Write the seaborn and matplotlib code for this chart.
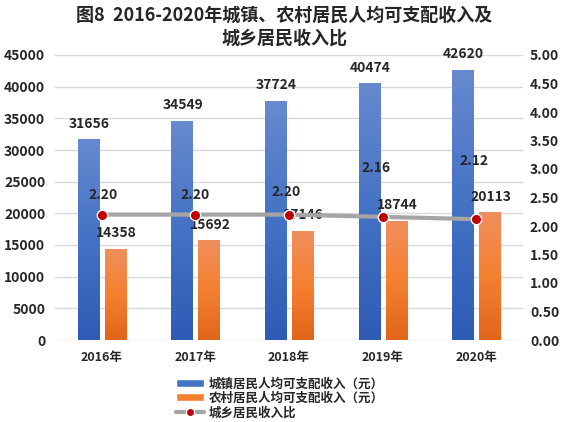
import numpy as np
import pandas as pd
import matplotlib
matplotlib.use('Agg')
import matplotlib.pyplot as plt
import seaborn as sns
from matplotlib.colors import LinearSegmentedColormap
from matplotlib.patches import Patch
from matplotlib.lines import Line2D
from matplotlib.ticker import FormatStrFormatter

# datos
years = ['2016年', '2017年', '2018年', '2019年', '2020年']
urban = [31656, 34549, 37724, 40474, 42620]
rural = [14358, 15692, 17146, 18744, 20113]
ratio = [2.20, 2.20, 2.20, 2.16, 2.12]
series_names = ['城镇居民人均可支配收入（元）', '农村居民人均可支配收入（元）']
line_name = '城乡居民收入比'

# desplazamiento (pixeles) de las etiquetas del ratio
ratio_label_dy = [20, 20, 23, 49, 58]
ratio_label_dx = [1, 0, -3, -7, -2]

sns.set_style('white')
plt.rcParams['font.family'] = ['Noto Sans CJK SC', 'DejaVu Sans']
plt.rcParams['font.weight'] = 'bold'

df = pd.DataFrame({
    'year': years * 2,
    'value': urban + rural,
    'serie': [series_names[0]] * len(years) + [series_names[1]] * len(years),
})

fig = plt.figure(figsize=(5.65, 4.22), dpi=100)
ax = fig.add_axes([55 / 565, 1 - 340 / 422, 468 / 565, 285 / 422])

sns.barplot(data=df, x='year', y='value', hue='serie', ax=ax,
            palette=['#4472c4', '#f58030'], width=0.578, gap=0.22,
            legend=False)

# degradado en las barras
grads = [LinearSegmentedColormap.from_list('b', ['#2f5bb5', '#4472c4', '#6789cf']),
         LinearSegmentedColormap.from_list('o', ['#e0661a', '#f58030', '#f08e5c'])]
g = np.linspace(0, 1, 100).reshape(-1, 1)
bars = [p for p in ax.patches if p.get_height() > 0]
n = len(years)
for i, p in enumerate(bars):
    x0, w, h = p.get_x(), p.get_width(), p.get_height()
    ax.imshow(g, extent=[x0, x0 + w, 0, h], origin='lower', aspect='auto',
              cmap=grads[i // n], zorder=2)
    p.set_alpha(0)

for i, p in enumerate(bars):
    ax.annotate(f'{int(p.get_height())}', (p.get_x() + p.get_width() / 2, p.get_height()),
                xytext=(1, 16), textcoords='offset pixels', ha='center', va='center',
                fontsize=10, fontweight='bold', zorder=6)

ax.set_xlim(-0.5, n - 0.5)
ax.set_ylim(0, 45000)
ax.set_yticks(np.arange(0, 45001, 5000))
ax.grid(axis='y', color='#d9d9d9', linewidth=1)
ax.set_axisbelow(True)
ax.set_xlabel('')
ax.set_ylabel('')
for s in ax.spines.values():
    s.set_visible(False)
ax.tick_params(axis='y', labelsize=10, pad=7, length=0)
ax.tick_params(axis='x', labelsize=9, pad=8, length=0)

ax2 = ax.twinx()
sns.lineplot(x=np.arange(n), y=ratio, ax=ax2, color='#a5a5a5', linewidth=3,
             marker='o', markersize=7.5, markerfacecolor='#c00000',
             markeredgecolor='white', markeredgewidth=1, zorder=5)
ax2.set_ylim(0, 5)
ax2.set_yticks(np.arange(0, 5.01, 0.5))
ax2.yaxis.set_major_formatter(FormatStrFormatter('%.2f'))
ax2.tick_params(axis='y', labelsize=10, pad=5, length=0)
for s in ax2.spines.values():
    s.set_visible(False)
ax2.grid(False)
for i, r in enumerate(ratio):
    ax2.annotate(f'{r:.2f}', (i, r), xytext=(ratio_label_dx[i], ratio_label_dy[i]),
                 textcoords='offset pixels', ha='center', va='center',
                 fontsize=10, fontweight='bold')
ax.set_zorder(1)
ax2.set_zorder(2)
ax2.patch.set_visible(False)

fig.text(0.503, 0.936, '图8  2016-2020年城镇、农村居民人均可支配收入及\n城乡居民收入比',
         ha='center', va='center', fontsize=13, fontweight='bold', linespacing=1.25)

handles = [Patch(facecolor='#4472c4'), Patch(facecolor='#f58030'),
           Line2D([], [], color='#a5a5a5', linewidth=3, marker='o', markersize=6,
                  markerfacecolor='#c00000', markeredgecolor='white')]
fig.legend(handles, series_names + [line_name], loc='upper left',
           bbox_to_anchor=(170 / 565, 1 - 371 / 422), frameon=False,
           fontsize=9, handlelength=2.2, handleheight=0.6, handletextpad=0.4,
           labelspacing=0.12, borderpad=0)

fig.savefig('out.png', dpi=100)
